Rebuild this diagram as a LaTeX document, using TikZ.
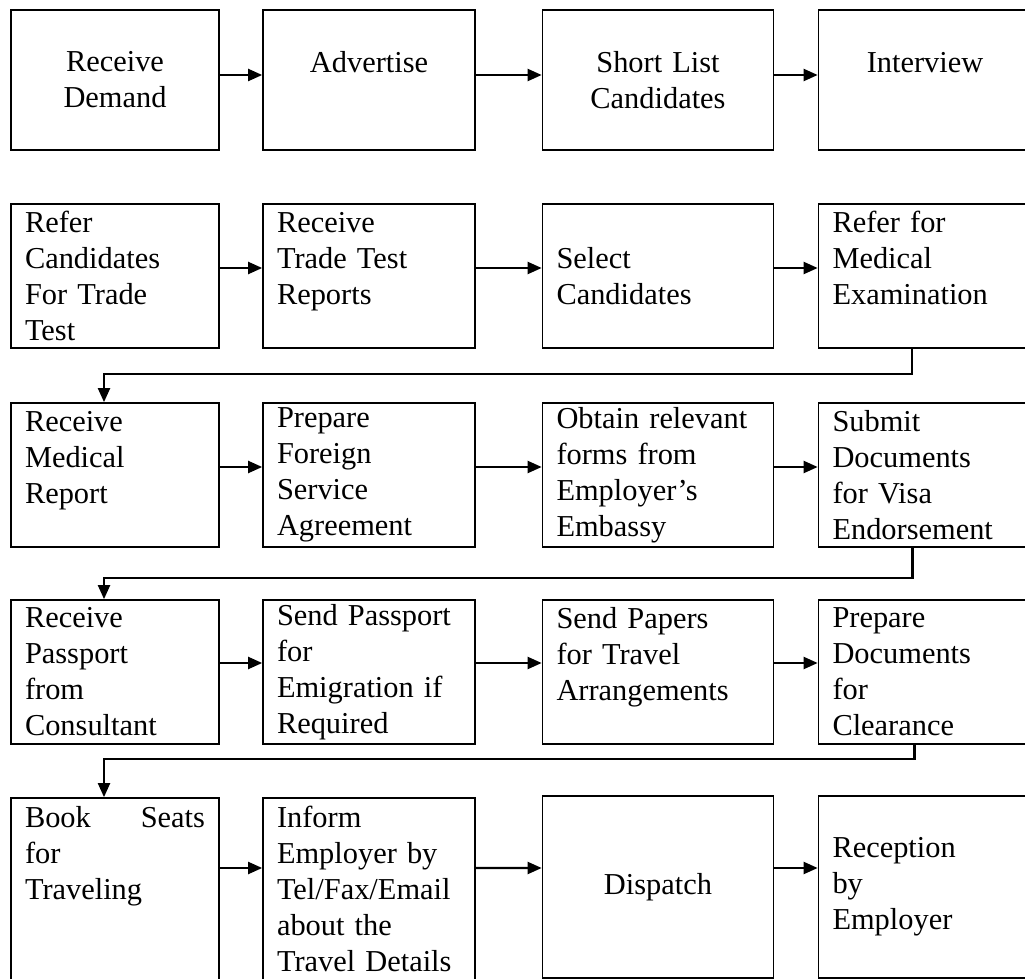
\documentclass[tikz,border=0pt]{standalone}
\usepackage{fontspec}
\setmainfont{Liberation Serif}
\usepackage{tikz}
\usetikzlibrary{arrows.meta,positioning}

\begin{document}
\begin{tikzpicture}[x=0.02cm, y=-0.02cm, >={Triangle[length=0.28cm,width=0.24cm]},
    task/.style={draw, rectangle, line width=1pt, inner xsep=0.28cm, inner ysep=0pt,
                 font=\fontsize{17.3}{20.5}\selectfont, align=left},
    colA/.style={task, text width=3.60cm},
    colB/.style={task, text width=3.68cm},
    colC/.style={task, text width=4.06cm},
    colD/.style={task, text width=3.70cm},
    rowA/.style={minimum height=2.80cm, align=center},
    rowB/.style={minimum height=2.88cm},
    rowC/.style={minimum height=3.64cm},
    flow/.style={->, line width=1.2pt}]
    \useasboundingbox (0,0) rectangle (1025,979);
    \clip (0,0) rectangle (1025,979);
    \fill[white] (0,0) rectangle (1025,979);

    % first row
    \node[colA, rowA] (demand)    at (115,80)  {Receive\\Demand};
    \node[colB, rowA] (advert)    at (369,80)  {Advertise\\~};
    \node[colC, rowA] (shortlist) at (658,80)  {Short List\\Candidates};
    \node[colD, rowA] (interview) at (925,80)  {Interview\\~};

    % second row
    \node[colA, rowB] (refer)     at (115,276) {Refer\\Candidates\\For Trade\\Test};
    \node[colB, rowB] (reports)   at (369,276) {Receive\\Trade Test\\Reports\\~};
    \node[colC, rowB] (select)    at (658,276) {Select\\Candidates};
    \node[colD, rowB] (medical)   at (925,276) {Refer for\\Medical\\Examination\\~};

    % third row
    \node[colA, rowB] (medreport) at (115,475) {Receive\\Medical\\Report\\~};
    \node[colB, rowB] (agreement) at (369,475) {Prepare\\Foreign\\Service\\Agreement};
    \node[colC, rowB] (forms)     at (658,475) {Obtain relevant\\forms from\\Employer's\\Embassy};
    \node[colD, rowB] (visa)      at (925,475) {Submit\\Documents\\for Visa\\Endorsement};

    % fourth row
    \node[colA, rowB] (passport)   at (115,672) {Receive\\Passport\\from\\Consultant};
    \node[colB, rowB] (emigration) at (369,672) {Send Passport\\for\\Emigration if\\Required};
    \node[colC, rowB] (papers)     at (658,672) {Send Papers\\for Travel\\Arrangements\\~};
    \node[colD, rowB] (clearance)  at (925,672) {Prepare\\Documents\\for\\Clearance};

    % fifth row
    \node[colA, rowC] (seats)     at (115,889) {Book\hfill Seats\\for\\Traveling\\~\\~};
    \node[colB, rowC] (inform)    at (369,889) {Inform\\Employer by\\Tel/Fax/Email\\about the\\Travel Details};
    \node[colC, rowC, align=center] (dispatch) at (658,887) {Dispatch};
    \node[colD, rowC] (reception) at (925,887) {Reception\\by\\Employer};

    % arrows along the rows
    \draw[flow] ([yshift=0.1cm]demand.east)    -- ([yshift=0.1cm]advert.west);
    \draw[flow] ([yshift=0.1cm]advert.east)    -- ([yshift=0.1cm]shortlist.west);
    \draw[flow] ([yshift=0.1cm]shortlist.east) -- ([yshift=0.1cm]interview.west);

    \draw[flow] ([yshift=0.16cm]refer.east)   -- ([yshift=0.16cm]reports.west);
    \draw[flow] ([yshift=0.16cm]reports.east) -- ([yshift=0.16cm]select.west);
    \draw[flow] ([yshift=0.16cm]select.east)  -- ([yshift=0.16cm]medical.west);

    \draw[flow] ([yshift=0.16cm]medreport.east) -- ([yshift=0.16cm]agreement.west);
    \draw[flow] ([yshift=0.16cm]agreement.east) -- ([yshift=0.16cm]forms.west);
    \draw[flow] ([yshift=0.16cm]forms.east)     -- ([yshift=0.16cm]visa.west);

    \draw[flow] ([yshift=0.18cm]passport.east)   -- ([yshift=0.18cm]emigration.west);
    \draw[flow] ([yshift=0.18cm]emigration.east) -- ([yshift=0.18cm]papers.west);
    \draw[flow] ([yshift=0.18cm]papers.east)     -- ([yshift=0.18cm]clearance.west);

    \draw[flow] ([yshift=0.42cm]seats.east)    -- ([yshift=0.42cm]inform.west);
    \draw[flow] ([yshift=0.42cm]inform.east)   -- ([yshift=0.38cm]dispatch.west);
    \draw[flow] ([yshift=0.38cm]dispatch.east) -- ([yshift=0.38cm]reception.west);

    % turns down to the next row
    \draw[flow] ([xshift=-0.26cm]medical.south)   -- ++(0,25) -| ([xshift=-0.22cm]medreport.north);
    \draw[flow] ([xshift=-0.25cm]visa.south)      -- ++(0,30) -| ([xshift=-0.22cm]passport.north);
    \draw[flow] ([xshift=-0.21cm]clearance.south) -- ++(0,14) -| ([xshift=-0.22cm]seats.north);
\end{tikzpicture}
\end{document}
